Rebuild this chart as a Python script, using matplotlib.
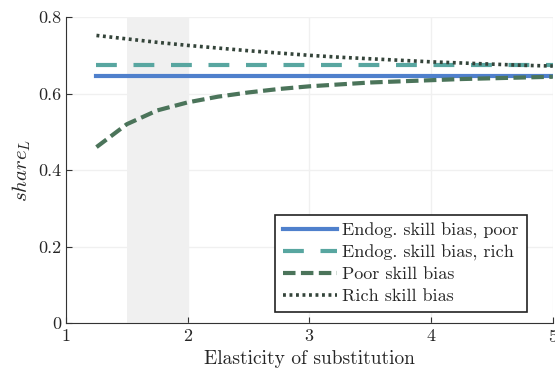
import numpy as np
import matplotlib.pyplot as plt

plt.rcParams['font.family'] = 'serif'
plt.rcParams['font.serif'] = ['cmr10']
plt.rcParams['mathtext.fontset'] = 'cm'
plt.rcParams['axes.formatter.use_mathtext'] = True

# elasticity grid
sigma = [1.25, 1.5, 1.75, 2.0, 2.25, 2.5, 2.75, 3.0, 3.25, 3.5, 3.75, 4.0, 4.25, 4.5, 4.75, 5.0]
endog_poor = [0.645] * len(sigma)
endog_rich = [0.675] * len(sigma)
poor_bias = [0.46, 0.52, 0.556, 0.577, 0.592, 0.603, 0.612, 0.619, 0.624, 0.629,
             0.632, 0.635, 0.638, 0.640, 0.642, 0.644]
rich_bias = [0.752, 0.743, 0.734, 0.726, 0.719, 0.712, 0.706, 0.700, 0.695, 0.691,
             0.687, 0.683, 0.680, 0.677, 0.674, 0.672]
shade = (1.5, 2.0)

fig = plt.figure(figsize=(5.55, 3.8), dpi=100)
ax = fig.add_axes([0.119, 0.15, 0.877, 0.805])

ax.axvspan(shade[0], shade[1], color='#f0f0f0', lw=0, zorder=0)
ax.plot(sigma, endog_poor, '-', color='#4f80cc', lw=3, label='Endog. skill bias, poor')
ax.plot(sigma, endog_rich, color='#58a6a0', lw=3, dashes=(5, 4), label='Endog. skill bias, rich')
ax.plot(sigma, poor_bias, color='#4b745a', lw=3, dashes=(3, 1.3), label='Poor skill bias')
ax.plot(sigma, rich_bias, color='#34443a', lw=2.6, dashes=(0.8, 1.0), label='Rich skill bias')

ax.set_xlim(1, 5)
ax.set_ylim(0, 0.8)
ax.set_xticks([1, 2, 3, 4, 5])
ax.set_yticks([0, 0.2, 0.4, 0.6, 0.8])
ax.set_yticklabels(['0', '0.2', '0.4', '0.6', '0.8'])
ax.grid(True, color='#f0f0f0', lw=1)
ax.set_axisbelow(True)
for s in ['top', 'right']:
    ax.spines[s].set_visible(False)
for s in ['left', 'bottom']:
    ax.spines[s].set_color('#333333')
ax.tick_params(direction='in', length=4, colors='#333333', labelsize=13, labelcolor='#262626')
ax.set_xlabel('Elasticity of substitution', fontsize=14, color='#262626')
ax.set_ylabel('$share_L$', fontsize=15, color='#262626')

leg = ax.legend(loc='lower right', fontsize=13, fancybox=False, framealpha=1,
                edgecolor='#222222', handlelength=3.0, handletextpad=0.3,
                borderpad=0.45, labelspacing=0.32, borderaxespad=0,
                bbox_to_anchor=(0.947, 0.036))
leg.get_frame().set_linewidth(1.2)
for t in leg.get_texts():
    t.set_color('#262626')

fig.savefig('out.png', dpi=100)
